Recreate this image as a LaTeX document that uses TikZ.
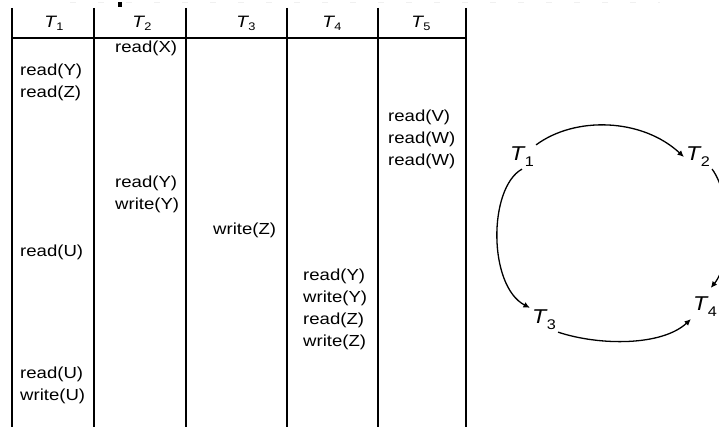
\documentclass[tikz,border=0pt]{standalone}
\usepackage{fontspec}
\setmainfont{Liberation Sans}[FakeStretch=1.16]
\usetikzlibrary{arrows.meta}
\newcommand{\hdrT}[1]{{\itshape T}\kern0.3pt\raisebox{-3pt}{\fontsize{11}{11}\selectfont #1}}
\newcommand{\grT}[1]{{\itshape T}\kern0.5pt\raisebox{-6pt}{\fontsize{14}{14}\selectfont #1}}
\begin{document}
\begin{tikzpicture}[x=1pt,y=-1pt,
  op/.style={anchor=base west,inner sep=0pt,font=\fontsize{16}{22}\selectfont},
  hdr/.style={anchor=base,inner sep=0pt,font=\fontsize{16.5}{18}\selectfont},
  gnode/.style={inner sep=2pt,font=\fontsize{20}{22}\selectfont},
  vline/.style={line width=2.2pt},
  hline/.style={line width=1.5pt},
  arr/.style={line width=1.3pt,-{Latex[length=6.5pt,width=6pt]}}]
\useasboundingbox (0,0) rectangle (719,427);
\clip (0,0) rectangle (719,427);
% faint top artifacts
\draw[black!6,line width=1pt,dash pattern=on 6pt off 22pt] (70,3) -- (660,3);
\fill (118,2) rectangle (122,7);
% table lines
\foreach \x in {12,94,186,287,378,466} \draw[vline] (\x,8) -- (\x,427);
\draw[hline] (12,38) -- (466,38);
% headers
\node[hdr] (h1) at (54,28) {\hdrT{1}};
\node[hdr] (h2) at (142,28) {\hdrT{2}};
\node[hdr] (h3) at (246,28) {\hdrT{3}};
\node[hdr] (h4) at (332,28) {\hdrT{4}};
\node[hdr] (h5) at (421,28) {\hdrT{5}};
% operations T1
\node[op] (a1) at (20,76) {read(Y)};
\node[op] (a2) at (20,98) {read(Z)};
\node[op] (a3) at (20,257) {read(U)};
\node[op] (a4) at (20,378) {read(U)};
\node[op] (a5) at (20,400) {write(U)};
% T2
\node[op] (b1) at (115,53) {read(X)};
\node[op] (b2) at (115,188) {read(Y)};
\node[op] (b3) at (115,210) {write(Y)};
% T3
\node[op] (c1) at (213,235) {write(Z)};
% T4
\node[op] (d1) at (303,280) {read(Y)};
\node[op] (d2) at (303,302) {write(Y)};
\node[op] (d3) at (303,324) {read(Z)};
\node[op] (d4) at (303,346) {write(Z)};
% T5
\node[op] (e1) at (388,122) {read(V)};
\node[op] (e2) at (388,144) {read(W)};
\node[op] (e3) at (388,166) {read(W)};
% precedence graph
\node[gnode] (t1) at (522,157) {\grT{1}};
\node[gnode] (t2) at (698,157) {\grT{2}};
\node[gnode] (t3) at (544,320) {\grT{3}};
\node[gnode] (t4) at (705,307) {\grT{4}};
\draw[arr] (t1.north east) .. controls (575,116) and (642,118) .. (t2.west);
\draw[arr] (t1.south) .. controls (488,188) and (488,286) .. (t3.north west);
\draw[arr,shorten >=9pt] (t2.south east) .. controls (732,196) and (732,262) .. (t4.north);
\draw[arr] (t3.south east) .. controls (600,346) and (662,346) .. (t4.south west);
\end{tikzpicture}
\end{document}
